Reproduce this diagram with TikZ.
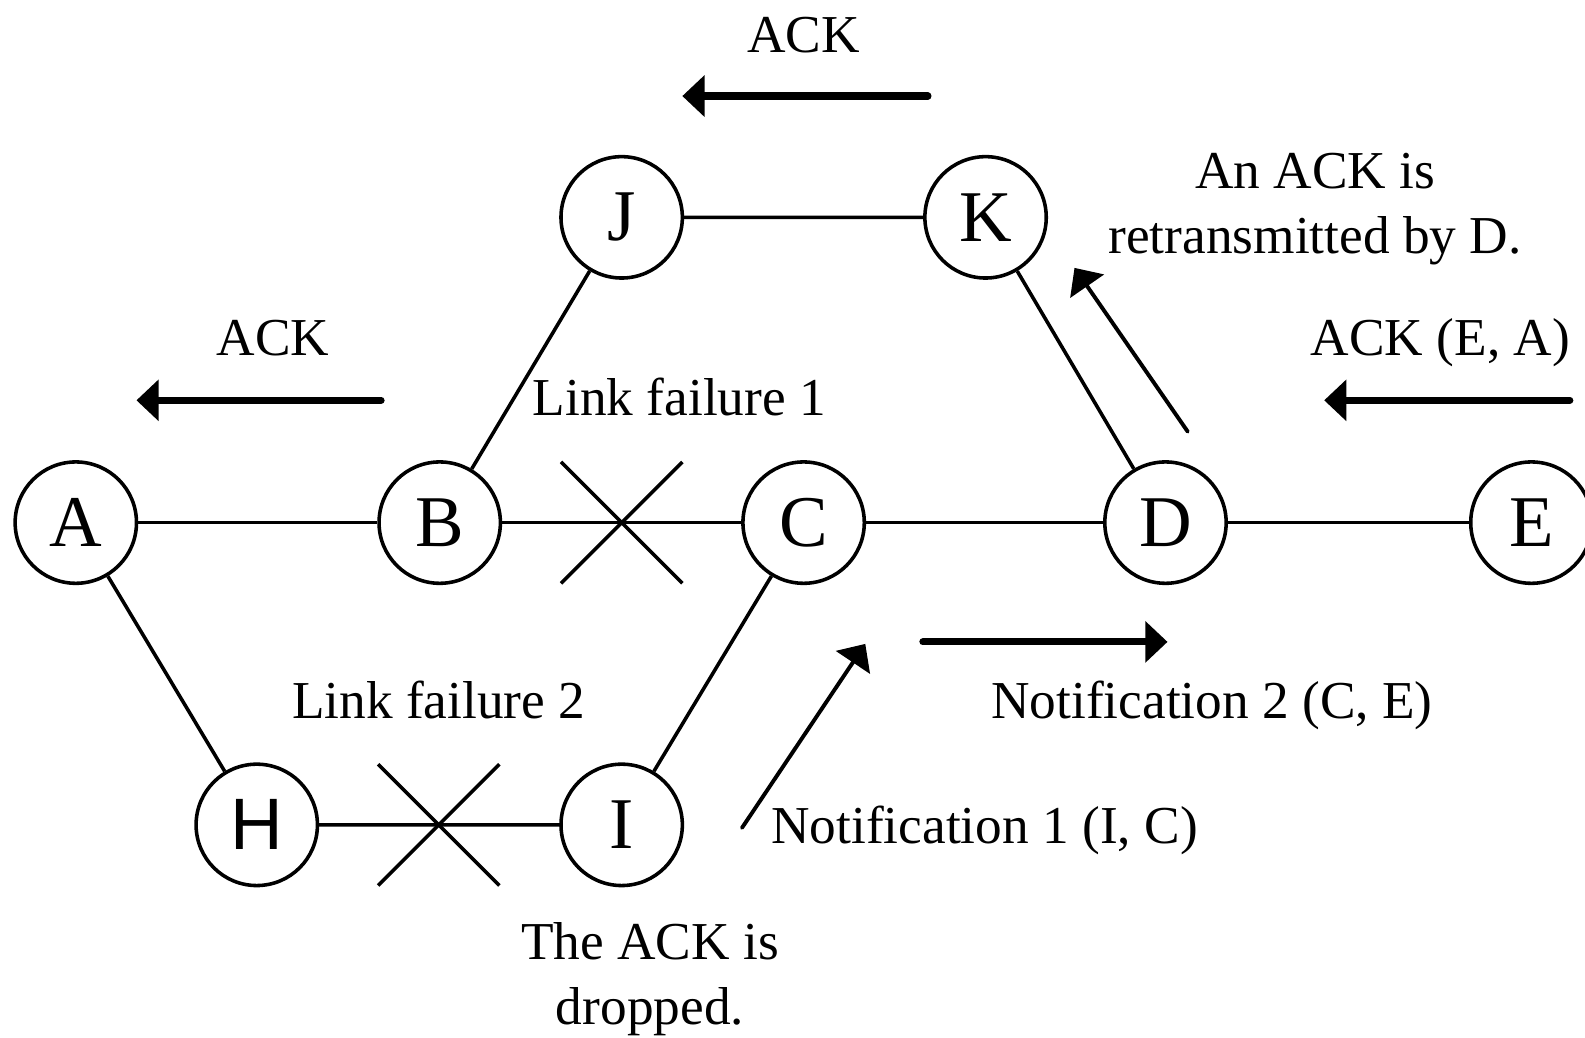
\documentclass[tikz,border=0pt]{standalone}
\usepackage{fontspec}
\setmainfont{Liberation Serif}
\newfontfamily\arialfont{Liberation Sans}
\usetikzlibrary{arrows.meta}
\begin{document}
\begin{tikzpicture}
  [x=0.01cm,y=-0.01cm,
  every node/.style={inner sep=0pt},
  station/.style={circle,draw,line width=1pt,minimum size=1.2cm,font=\fontsize{20.5}{20.5}\selectfont},
  link/.style={line width=1pt},
  msg/.style={line width=2pt,line cap=round,-{Triangle[length=0.22cm,width=0.4cm]}},
  hint/.style={line width=1.1pt,line cap=round,-{Triangle[length=0.22cm,width=0.4cm]}},
  lbl/.style={font=\fontsize{15}{18.2}\selectfont,align=center}]
\useasboundingbox (0,0) rectangle (1568,1026);
% stations
\foreach \name/\x/\y in {A/75/517,B/435/517,C/795/517,D/1153/517,E/1515/517,J/615/215,K/975/215,I/615/816}
  \node[station] (\name) at (\x,\y) {\name};
\node[station,font=\arialfont\fontsize{20.5}{20.5}\selectfont] (H) at (254,816) {H};
% links
\draw[link] (A) -- (B) -- (C) -- (D) -- (E);
\draw[link] (B) -- (J) -- (K) -- (D);
\draw[link] (A) -- (H) -- (I) -- (C);
% failures
\coordinate (cut1) at (615,517);
\coordinate (cut2) at (434,816);
\foreach \c in {cut1,cut2} {
  \draw[link] (\c) ++(-60,-60) -- ++(120,120);
  \draw[link] (\c) ++(-60,60) -- ++(120,-120);
}
\node[lbl,anchor=base] (fail1) at (672,411) {Link failure 1};
\node[lbl,anchor=base] (fail2) at (434,711) {Link failure 2};
% messages
\coordinate (ack1s) at (918,95);   \coordinate (ack1e) at (675,95);
\coordinate (ack2s) at (377,396);  \coordinate (ack2e) at (135,396);
\coordinate (ack3s) at (1553,396); \coordinate (ack3e) at (1310,396);
\coordinate (nt2s) at (913,635);   \coordinate (nt2e) at (1155,635);
\coordinate (rtxs) at (1175,427);  \coordinate (rtxe) at (1063,265);
\coordinate (nt1s) at (734,819);   \coordinate (nt1e) at (856,637);
\draw[msg] (ack1s) -- (ack1e);
\draw[msg] (ack2s) -- (ack2e);
\draw[msg] (ack3s) -- (ack3e);
\draw[msg] (nt2s) -- (nt2e);
\draw[hint] (rtxs) -- (rtxe);
\draw[hint] (nt1s) -- (nt1e);
\node[lbl,anchor=base] (ack1) at (795,52) {ACK};
\node[lbl,anchor=base] (ack2) at (270,352) {ACK};
\node[lbl,anchor=base] (ack3) at (1425,352) {ACK (E, A)};
\node[lbl,anchor=base] (nt2) at (1199,711) {Notification 2 (C, E)};
\node[lbl,anchor=base] (nt1) at (974,834) {Notification 1 (I, C)};
\node[lbl,anchor=north] (rtx) at (1301,151) {An ACK is\\retransmitted by D.};
\node[lbl,anchor=north] (drop) at (643,912) {The ACK is\\dropped.};
\end{tikzpicture}
\end{document}
